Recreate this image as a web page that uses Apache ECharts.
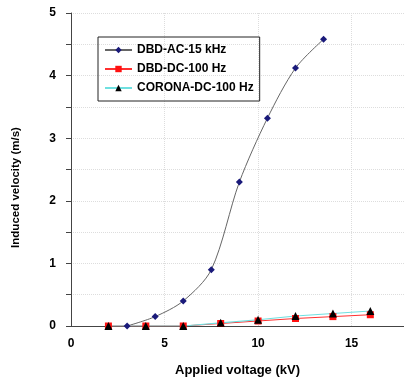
<!DOCTYPE html>
<html>
<head>
<meta charset="utf-8">
<script src="https://cdn.jsdelivr.net/npm/echarts@6/dist/echarts.min.js"></script>
<style>
  html, body { margin: 0; padding: 0; background: #fff; }
  #chart { width: 404px; height: 377px; }
</style>
</head>
<body>
<div id="chart"></div>
<script>
// values
const acVoltage = [3, 4.5, 6, 7.5, 9, 10.5, 12, 13.5];
const acVelocity = [0, 0.15, 0.4, 0.9, 2.3, 3.32, 4.12, 4.58];

const dcVoltage = [2, 4, 6, 8, 10, 12, 14, 16];
const dbdDcVelocity = [0, 0, 0, 0.04, 0.08, 0.12, 0.15, 0.18];
const coronaVelocity = [0, 0, 0, 0.05, 0.1, 0.16, 0.2, 0.24];

const seriesNames = ["DBD-AC-15 kHz", "DBD-DC-100 Hz", "CORONA-DC-100 Hz"];

const pairs = (xs, ys) => xs.map((x, i) => [x, ys[i]]);

const font = "Arial, 'Liberation Sans', sans-serif";
const chart = echarts.init(document.getElementById("chart"));

chart.setOption({
  animation: false,
  backgroundColor: "#fff",
  grid: { left: 71, right: 0, top: 13, bottom: 51, outerBoundsMode: "none" },
  legend: {
    orient: "vertical",
    left: 98,
    top: 37,
    padding: [7, 6, 7, 6],
    itemGap: 7,
    itemWidth: 27,
    itemHeight: 8,
    borderColor: "#222",
    borderWidth: 1,
    textStyle: { fontFamily: font, fontWeight: "bold", fontSize: 12, color: "#000" },
    data: seriesNames,
  },
  xAxis: {
    type: "value",
    min: 0,
    max: 17.8,
    interval: 5,
    name: "Applied voltage (kV)",
    nameLocation: "middle",
    nameGap: 38,
    nameTextStyle: { fontFamily: font, fontWeight: "bold", fontSize: 13, color: "#000" },
    axisLine: { lineStyle: { color: "#444", width: 1 } },
    axisTick: { show: false },
    axisLabel: {
      fontFamily: font, fontWeight: "bold", fontSize: 12, color: "#000", margin: 12,
      showMaxLabel: false,
    },
    splitLine: { show: true, lineStyle: { color: "#ddd", type: "dotted" } },
  },
  yAxis: {
    type: "value",
    min: 0,
    max: 5,
    interval: 0.5,
    name: "Induced velocity (m/s)",
    nameLocation: "middle",
    nameGap: 49,
    nameTextStyle: {
      fontFamily: font, fontWeight: "bold", fontSize: 11.5, color: "#000",
      padding: [0, 36, 0, 0],
    },
    axisLine: { show: true, lineStyle: { color: "#444", width: 1 } },
    axisTick: { show: true, length: 5, lineStyle: { color: "#444" } },
    axisLabel: {
      fontFamily: font, fontWeight: "bold", fontSize: 12, color: "#000", margin: 15,
      formatter: (v) => (Number.isInteger(v) ? String(v) : ""),
    },
    splitLine: { show: true, lineStyle: { color: "#ddd", type: "dotted" } },
  },
  series: [
    {
      name: seriesNames[0],
      type: "line",
      smooth: 0.3,
      data: pairs(acVoltage, acVelocity),
      symbol: "diamond",
      symbolSize: 7,
      lineStyle: { color: "#666", width: 1 },
      itemStyle: { color: "#1a1a7a" },
    },
    {
      name: seriesNames[1],
      type: "line",
      data: pairs(dcVoltage, dbdDcVelocity),
      symbol: "rect",
      symbolSize: 7,
      lineStyle: { color: "#ff3030", width: 1 },
      itemStyle: { color: "#ff1010" },
    },
    {
      name: seriesNames[2],
      type: "line",
      data: pairs(dcVoltage, coronaVelocity),
      symbol: "triangle",
      symbolSize: 8,
      lineStyle: { color: "#6fe0e0", width: 1.2 },
      itemStyle: { color: "#000" },
    },
  ],
});
</script>
</body>
</html>
